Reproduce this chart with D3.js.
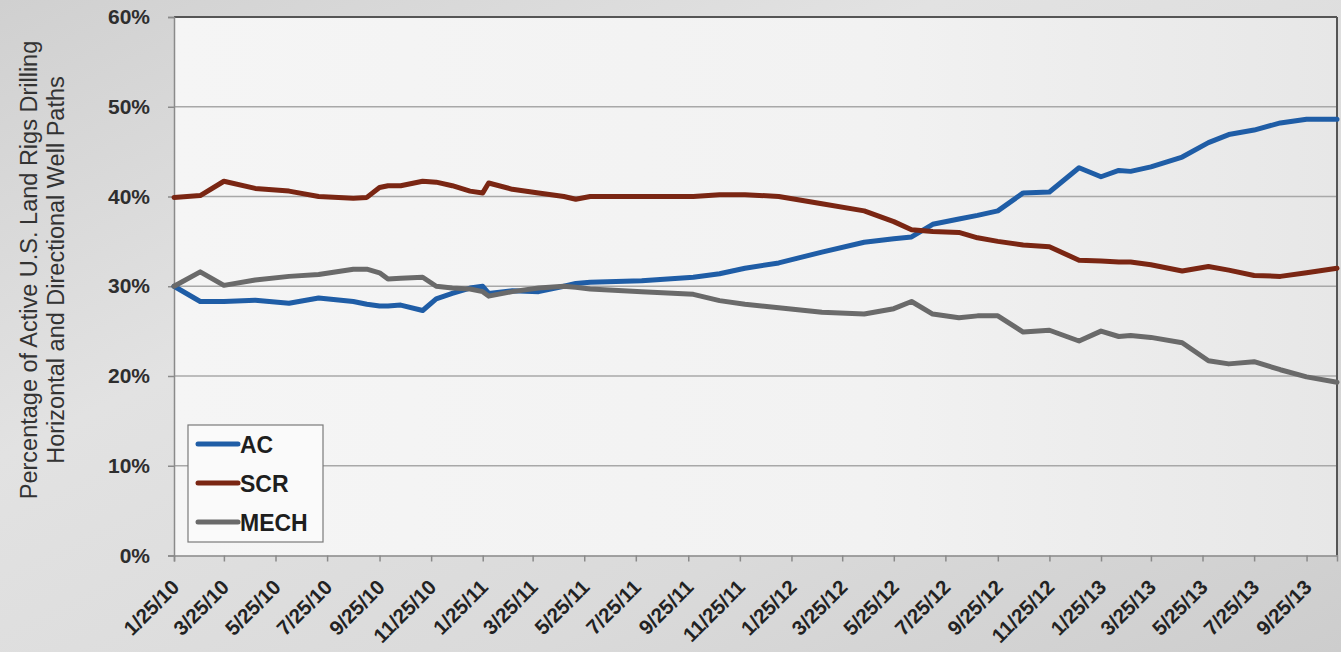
<!DOCTYPE html>
<html><head><meta charset="utf-8">
<script src="https://cdn.jsdelivr.net/npm/d3@7"></script>
<style>
html,body{margin:0;padding:0;}
body{width:1341px;height:652px;overflow:hidden;}
</style></head>
<body>
<svg id="chart" width="1341" height="652"></svg>
<script>
const dates = ["2010-01-25","2010-02-25","2010-03-25","2010-05-01","2010-06-10","2010-07-15","2010-08-25","2010-09-10","2010-09-25","2010-10-05","2010-10-20","2010-11-15","2010-12-01","2010-12-20","2011-01-10","2011-01-25","2011-02-01","2011-03-01","2011-04-01","2011-05-01","2011-05-15","2011-06-01","2011-08-01","2011-10-01","2011-11-01","2011-12-01","2012-01-10","2012-03-01","2012-04-20","2012-05-25","2012-06-15","2012-07-10","2012-08-10","2012-09-01","2012-09-25","2012-10-25","2012-11-25","2012-12-30","2013-01-25","2013-02-15","2013-03-01","2013-03-25","2013-05-01","2013-06-01","2013-06-25","2013-07-25","2013-08-25","2013-09-25","2013-10-31"];
const acValues = [30.0,28.3,28.3,28.45,28.1,28.7,28.3,28.0,27.8,27.8,27.9,27.3,28.6,29.2,29.8,30.0,29.2,29.5,29.4,30.0,30.3,30.45,30.6,31.0,31.4,32.0,32.6,33.8,34.9,35.3,35.5,36.9,37.5,37.9,38.4,40.4,40.5,43.2,42.2,42.9,42.8,43.3,44.4,46.0,46.9,47.4,48.2,48.6,48.6];
const scrValues = [39.9,40.1,41.7,40.9,40.6,40.0,39.8,39.9,41.0,41.2,41.2,41.7,41.6,41.2,40.6,40.4,41.5,40.8,40.4,40.0,39.7,40.0,40.0,40.0,40.2,40.2,40.0,39.2,38.4,37.2,36.3,36.1,36.0,35.4,35.0,34.6,34.4,32.9,32.8,32.7,32.7,32.4,31.7,32.2,31.8,31.2,31.1,31.5,32.0];
const mechValues = [30.0,31.6,30.1,30.7,31.1,31.3,31.9,31.9,31.5,30.8,30.9,31.0,30.0,29.8,29.7,29.4,28.9,29.4,29.8,30.0,29.9,29.7,29.4,29.1,28.4,28.0,27.6,27.1,26.9,27.5,28.3,26.9,26.5,26.7,26.7,24.9,25.1,23.9,25.0,24.4,24.5,24.3,23.7,21.7,21.35,21.6,20.7,19.9,19.3];
const seriesNames = ["AC","SCR","MECH"];
const seriesColors = ["#1f5da6","#7a2613","#6a6a6a"];
const yTicks = [0,10,20,30,40,50,60];
const xTickLabels = ["1/25/10","3/25/10","5/25/10","7/25/10","9/25/10","11/25/10","1/25/11","3/25/11","5/25/11","7/25/11","9/25/11","11/25/11","1/25/12","3/25/12","5/25/12","7/25/12","9/25/12","11/25/12","1/25/13","3/25/13","5/25/13","7/25/13","9/25/13"];
const yTitle = ["Percentage of Active U.S. Land Rigs Drilling","Horizontal and Directional Well Paths"];

const parse = d3.timeParse("%Y-%m-%d");
const parseTick = d3.timeParse("%m/%d/%y");
const svg = d3.select("#chart");
const FONT = "Liberation Sans, Arial, sans-serif";

const m = {left:174, right:1337, top:17, bottom:555.5};
const x = d3.scaleTime().domain([parse(dates[0]), parse(dates[dates.length-1])]).range([m.left, m.right]);
const y = d3.scaleLinear().domain([0,60]).range([m.bottom, m.top]);

// background
const defs = svg.append("defs");
const bg = defs.append("linearGradient").attr("id","bg").attr("x1","0").attr("y1","0").attr("x2","1").attr("y2","1");
bg.append("stop").attr("offset","0").attr("stop-color","#d0d0d0");
bg.append("stop").attr("offset","0.35").attr("stop-color","#e2e2e2");
bg.append("stop").attr("offset","0.7").attr("stop-color","#dadada");
bg.append("stop").attr("offset","1").attr("stop-color","#cdcdcd");
const pg = defs.append("linearGradient").attr("id","pg").attr("x1","0").attr("y1","0").attr("x2","1").attr("y2","0");
pg.append("stop").attr("offset","0").attr("stop-color","#f5f5f5");
pg.append("stop").attr("offset","0.6").attr("stop-color","#f2f2f2");
pg.append("stop").attr("offset","1").attr("stop-color","#e7e7e7");
svg.append("rect").attr("width",1341).attr("height",652).attr("fill","url(#bg)");
svg.append("rect").attr("x",m.left).attr("y",m.top).attr("width",m.right-m.left).attr("height",m.bottom-m.top).attr("fill","url(#pg)");

// gridlines
svg.append("g").selectAll("line").data(yTicks.filter(d=>d>0 && d<60)).join("line")
  .attr("x1",m.left).attr("x2",m.right).attr("y1",d=>y(d)).attr("y2",d=>y(d))
  .attr("stroke","#a8a8a8").attr("stroke-width",1.5);

// frame top/right
svg.append("line").attr("x1",m.left).attr("x2",m.right).attr("y1",m.top).attr("y2",m.top).attr("stroke","#555").attr("stroke-width",2);
svg.append("line").attr("x1",m.right).attr("x2",m.right).attr("y1",m.top).attr("y2",m.bottom).attr("stroke","#555").attr("stroke-width",2);

// y axis
const yAxis = d3.axisLeft(y).tickValues(yTicks).tickFormat(d=>d+"%").tickSize(6).tickPadding(18);
const gy = svg.append("g").attr("transform",`translate(${m.left},0)`).call(yAxis);
gy.select(".domain").attr("stroke","#8a8a8a").attr("stroke-width",1.5);
gy.selectAll(".tick line").attr("stroke","#8a8a8a").attr("stroke-width",1.5);
gy.selectAll("text").attr("font-family",FONT).attr("font-size",21).attr("font-weight","bold").attr("fill","#2e2e2e");

// x axis
const xAxis = d3.axisBottom(x).tickValues(xTickLabels.map(parseTick)).tickFormat((d,i)=>xTickLabels[i]).tickSize(6);
const gx = svg.append("g").attr("transform",`translate(0,${m.bottom})`).call(xAxis);
gx.select(".domain").attr("stroke","#8a8a8a").attr("stroke-width",1.5);
gx.selectAll(".tick line").attr("stroke","#8a8a8a").attr("stroke-width",1.5);
gx.selectAll("text").attr("font-family",FONT).attr("font-size",20.5).attr("font-weight","bold").attr("fill","#222")
  .attr("text-anchor","end").attr("dy",0).attr("y",0)
  .attr("transform","translate(6,33) rotate(-45)");

// lines
const allSeries = [acValues, scrValues, mechValues];
const line = d3.line().x((d,i)=>x(parse(dates[i]))).y(d=>y(d));
svg.append("g").selectAll("path").data(allSeries).join("path")
  .attr("d",d=>line(d)).attr("fill","none")
  .attr("stroke",(d,i)=>seriesColors[i]).attr("stroke-width",5)
  .attr("stroke-linejoin","round").attr("stroke-linecap","round");

// y title
const yt = svg.append("text").attr("transform","translate(0,270) rotate(-90)")
  .attr("font-family",FONT).attr("font-size",23.5).attr("fill","#333").attr("text-anchor","middle");
yt.selectAll("tspan").data(yTitle).join("tspan").attr("x",0).attr("y",(d,i)=>37+i*27).text(d=>d);

// legend
const lg = svg.append("g");
lg.append("rect").attr("x",188).attr("y",425).attr("width",135).attr("height",117).attr("fill","#fafafa").attr("stroke","#7a7a7a").attr("stroke-width",1.2);
const items = lg.selectAll("g.item").data(seriesNames).join("g").attr("class","item")
  .attr("transform",(d,i)=>`translate(0,${444+i*39})`);
items.append("line").attr("x1",198).attr("x2",238).attr("y1",0).attr("y2",0)
  .attr("stroke",(d,i)=>seriesColors[i]).attr("stroke-width",5).attr("stroke-linecap","round");
items.append("text").attr("x",240).attr("y",8.5).text(d=>d)
  .attr("font-family",FONT).attr("font-size",23).attr("font-weight","bold").attr("fill","#1e1e1e");
</script>
</body></html>
